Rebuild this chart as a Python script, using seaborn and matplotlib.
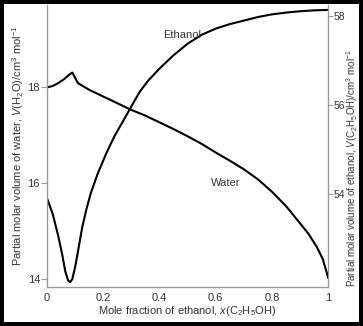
import pandas as pd
import seaborn as sns
import matplotlib.pyplot as plt

# Partial molar volumes of water / ethanol mixtures
water_x = [0, 0.02, 0.04, 0.06, 0.08, 0.09, 0.10, 0.11, 0.15, 0.2, 0.25, 0.3,
           0.35, 0.4, 0.45, 0.5, 0.55, 0.6, 0.65, 0.7, 0.75, 0.8, 0.85, 0.9,
           0.93, 0.96, 0.98, 1.0]
water_v = [18.0, 18.03, 18.09, 18.17, 18.27, 18.31, 18.2, 18.09, 17.95, 17.81,
           17.67, 17.53, 17.41, 17.27, 17.13, 16.98, 16.82, 16.64, 16.47, 16.29,
           16.08, 15.82, 15.52, 15.16, 14.94, 14.66, 14.42, 14.02]

ethanol_x = [0, 0.02, 0.04, 0.055, 0.065, 0.075, 0.082, 0.09, 0.1, 0.11, 0.125,
             0.14, 0.155, 0.18, 0.21, 0.24, 0.27, 0.3, 0.33, 0.36, 0.4, 0.45,
             0.5, 0.55, 0.6, 0.65, 0.7, 0.75, 0.8, 0.85, 0.9, 0.95, 1.0]
ethanol_v = [53.9, 53.55, 53.05, 52.6, 52.25, 52.05, 52.01, 52.08, 52.35, 52.7,
             53.24, 53.65, 54.0, 54.45, 54.9, 55.3, 55.63, 55.97, 56.3, 56.55,
             56.82, 57.12, 57.38, 57.58, 57.72, 57.82, 57.9, 57.98, 58.04, 58.08,
             58.11, 58.13, 58.14]

x_ticks = [0, 0.2, 0.4, 0.6, 0.8, 1]
x_labels = ['0', '0.2', '0.4', '0.6', '0.8', '1']
water_ticks = [14, 16, 18]
ethanol_ticks = [54, 56, 58]

water = pd.DataFrame({'x': water_x, 'v': water_v})
ethanol = pd.DataFrame({'x': ethanol_x, 'v': ethanol_v})

sns.set_style('white')
plt.rcParams['font.family'] = ['Liberation Sans', 'DejaVu Sans']
plt.rcParams['mathtext.fontset'] = 'custom'
plt.rcParams['mathtext.rm'] = 'Liberation Sans'
plt.rcParams['mathtext.it'] = 'Liberation Sans:italic'

text_col = '#333333'
spine_col = '#999999'

fig = plt.figure(figsize=(3.63, 3.26), dpi=100)
ax = fig.add_axes([0.1295, 0.1196, 0.775, 0.865])
ax2 = ax.twinx()

sns.lineplot(data=water, x='x', y='v', ax=ax, color='black', lw=1.5)
sns.lineplot(data=ethanol, x='x', y='v', ax=ax2, color='black', lw=1.5)

ax.set_xlim(0, 1.0)
ax.set_ylim(13.834, 19.72)
ax2.set_ylim(51.90, 58.25)

ax.set_xticks(x_ticks)
ax.set_xticklabels(x_labels)
ax.set_yticks(water_ticks)
ax2.set_yticks(ethanol_ticks)

for a in (ax, ax2):
    for s in a.spines.values():
        s.set_color(spine_col)
        s.set_linewidth(1.0)
    a.spines['top'].set_visible(False)
ax.spines['right'].set_visible(False)
ax2.spines['left'].set_visible(False)
ax2.spines['bottom'].set_visible(False)
ax.spines['bottom'].set_linestyle((0, (2, 1)))

ax.tick_params(axis='x', direction='in', length=4, color=spine_col,
               labelsize=8, labelcolor=text_col, pad=4)
ax.tick_params(axis='y', direction='out', length=4, color=spine_col,
               labelsize=8, labelcolor=text_col, pad=1)
ax2.tick_params(axis='y', direction='out', length=3.5, color=spine_col,
                labelsize=7.5, labelcolor=text_col, pad=0.5)

ax.set_xlabel('Mole fraction of ethanol, $x$(C$_2$H$_5$OH)', fontsize=8,
              color=text_col, labelpad=1)
ax.set_ylabel('Partial molar volume of water, $V$(H$_2$O)/cm$^3$ mol$^{-1}$',
              fontsize=8, color=text_col, labelpad=1)
ax2.set_ylabel('')
fig.text(352.5 / 363, 1 - 168 / 326,
         'Partial molar volume of ethanol, $V$(C$_2$H$_5$OH)/cm$^3$ mol$^{-1}$',
         fontsize=7, color=text_col, rotation=90, ha='center', va='center')

ax2.text(0.48, 57.58, 'Ethanol', fontsize=8, color=text_col, ha='center', va='center')
ax.text(0.636, 16.0, 'Water', fontsize=8, color=text_col, ha='center', va='center')

ax.set_zorder(ax2.get_zorder() + 1)
ax.patch.set_visible(False)

# black frame around the whole picture
fig.patch.set_edgecolor('black')
fig.patch.set_linewidth(5.5)

plt.savefig('out.png', dpi=100, edgecolor='black')
